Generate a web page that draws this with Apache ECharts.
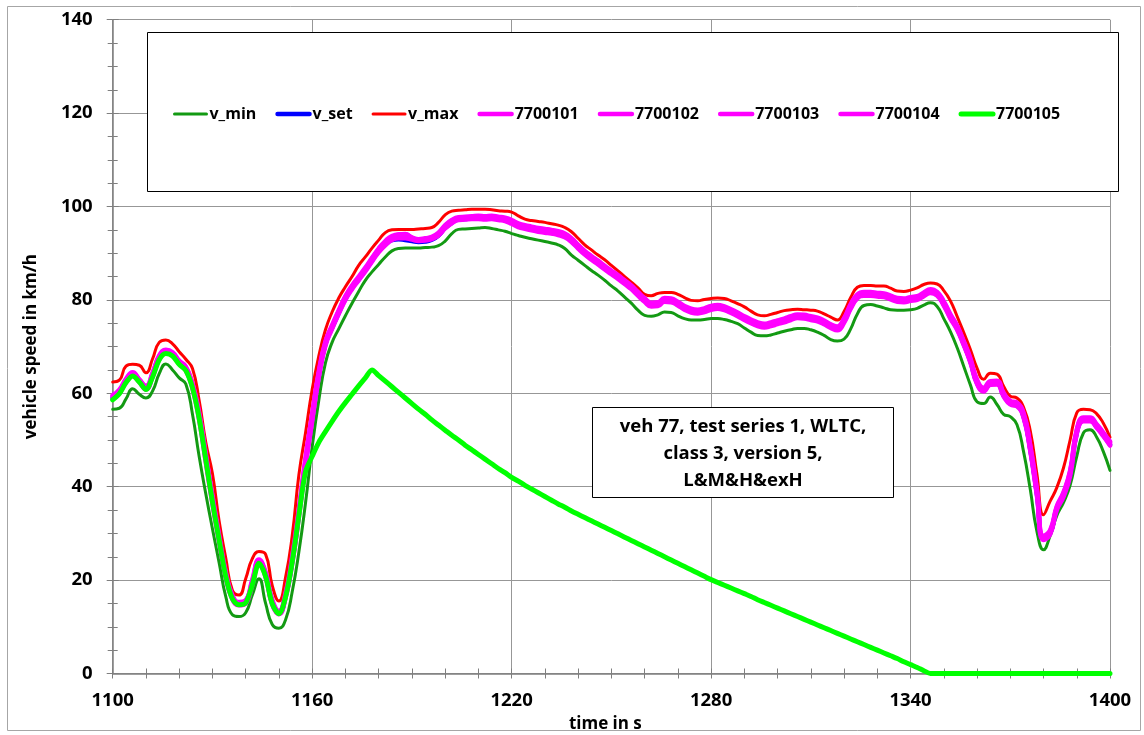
<!DOCTYPE html>
<html><head><meta charset="utf-8">
<script src="https://cdn.jsdelivr.net/npm/echarts@6/dist/echarts.min.js"></script>
<style>html,body{margin:0;padding:0;background:#fff;}#c{width:1144px;height:735px;}</style>
</head><body><div id="c"></div>
<script>
// time in s
const time = [
1100,1102,1104,1106,1108,1110,1112,1114,1116,1118,
1120,1122,1124,1126,1128,1130,1132,1134,1136,1138,
1140,1142,1144,1146,1148,1150,1152,1154,1156,1158,
1160,1162,1164,1166,1168,1170,1172,1174,1176,1178,
1180,1182,1184,1186,1188,1190,1192,1194,1196,1198,
1200,1202,1204,1206,1208,1210,1212,1214,1216,1218,
1220,1222,1224,1226,1228,1230,1232,1234,1236,1238,
1240,1242,1244,1246,1248,1250,1252,1254,1256,1258,
1260,1262,1264,1266,1268,1270,1272,1274,1276,1278,
1280,1282,1284,1286,1288,1290,1292,1294,1296,1298,
1300,1302,1304,1306,1308,1310,1312,1314,1316,1318,
1320,1322,1324,1326,1328,1330,1332,1334,1336,1338,
1340,1342,1344,1346,1348,1350,1352,1354,1356,1358,
1360,1362,1364,1366,1368,1370,1372,1374,1376,1378,
1380,1382,1384,1386,1388,1390,1392,1394,1396,1398,
1400];

const vMin = [
56.6,56.8,58.8,61.0,59.8,59.0,60.5,64.2,66.3,65.0,
63.3,62.0,55.5,46.5,38.5,31.0,23.8,16.5,12.6,12.2,
13.0,16.8,20.3,15.0,10.5,9.7,11.5,17.5,26.0,36.5,
48.5,58.5,66.5,70.9,73.8,76.6,79.3,81.8,84.2,86.0,
87.6,89.2,90.5,91.0,91.1,91.1,91.1,91.2,91.3,91.6,
92.6,94.2,95.1,95.2,95.3,95.4,95.5,95.3,95.0,94.7,
94.2,93.8,93.4,93.1,92.8,92.5,92.2,91.8,91.0,89.6,
88.5,87.4,86.3,85.3,84.2,83.0,81.9,80.6,79.3,77.8,
76.7,76.5,76.8,77.4,77.3,76.6,76.0,75.7,75.7,75.8,
76.0,76.0,75.8,75.4,74.9,74.0,73.1,72.4,72.3,72.5,
72.9,73.3,73.6,73.9,73.9,73.6,73.1,72.4,71.5,71.2,
71.6,73.8,77.0,78.8,79.0,78.7,78.3,77.9,77.8,77.8,
77.9,78.2,78.9,79.4,78.6,76.0,73.2,69.8,65.8,61.8,
58.2,57.8,59.2,57.6,55.5,55.0,53.3,47.5,39.5,30.5,
26.5,29.5,33.8,36.6,40.3,46.5,51.5,52.2,50.6,47.5,
43.5];

const vSet = [
59.0,60.2,62.6,64.0,62.6,61.0,63.8,67.5,68.8,68.3,
66.5,65.2,61.5,55.0,46.0,37.0,28.8,21.0,16.2,14.8,
15.2,19.2,23.9,21.0,15.0,12.9,16.5,24.0,34.0,45.0,
54.5,63.8,70.5,74.0,77.2,80.2,82.5,84.4,86.3,88.4,
90.4,91.8,92.8,93.0,92.8,92.6,92.4,92.5,92.9,93.8,
95.4,96.5,97.2,97.3,97.4,97.5,97.4,97.5,97.3,97.1,
96.5,95.8,95.4,95.1,94.8,94.6,94.4,94.1,93.6,92.6,
91.2,89.9,88.8,87.8,86.7,85.7,84.7,83.6,82.5,81.1,
79.8,78.8,78.9,79.8,79.7,79.0,78.1,77.5,77.3,77.6,
78.1,78.3,78.0,77.4,76.7,75.9,75.2,74.6,74.3,74.6,
75.0,75.4,75.9,76.3,76.2,75.9,75.6,75.0,74.2,73.7,
75.4,78.4,80.5,81.1,81.1,80.9,80.8,80.3,79.8,79.7,
80.0,80.2,81.0,81.7,81.1,79.0,76.2,73.8,70.5,66.8,
62.2,60.6,62.0,62.1,59.5,57.8,57.4,55.0,48.0,38.5,
28.8,30.0,35.2,38.0,42.5,51.5,54.2,54.2,52.8,51.0,
49.0];

const vMax = [
62.4,62.8,65.8,66.2,66.0,64.4,67.4,70.9,71.4,70.6,
68.9,67.3,65.3,58.5,49.5,42.8,32.7,24.8,17.8,16.8,
20.3,24.6,26.1,25.5,18.8,15.5,20.6,29.5,42.5,51.5,
60.8,68.0,73.6,77.4,80.4,82.8,85.0,87.4,89.2,91.1,
92.8,94.4,95.0,95.1,95.1,95.1,95.2,95.3,95.5,96.6,
98.2,99.0,99.2,99.3,99.4,99.4,99.4,99.3,99.1,99.0,
98.8,98.0,97.3,97.0,96.8,96.6,96.3,96.0,95.5,94.6,
93.2,91.8,90.7,89.6,88.6,87.4,86.2,85.0,83.8,82.6,
81.2,80.9,81.4,81.6,81.6,81.2,80.5,79.9,79.8,80.1,
80.3,80.4,80.3,79.8,79.2,78.5,77.6,76.8,76.6,76.9,
77.3,77.7,77.9,78.0,77.9,77.8,77.6,77.0,76.3,75.7,
77.5,80.5,82.7,83.1,83.1,83.0,83.0,82.5,81.9,81.8,
82.1,82.6,83.3,83.6,83.4,82.0,79.8,76.5,73.0,69.4,
65.4,63.0,64.3,64.1,61.5,59.4,59.0,57.0,52.0,42.8,
34.0,36.9,39.8,44.0,50.0,55.8,56.6,56.5,55.6,53.6,
50.6];

const run7700101 = [
59.4,60.5,62.9,64.3,62.9,61.4,64.2,67.9,69.1,68.6,
66.8,65.5,61.9,55.6,46.8,37.8,29.4,21.5,16.5,15.0,
15.5,19.8,24.2,21.4,15.5,13.2,17.0,24.8,34.9,45.8,
55.3,64.4,70.9,74.4,77.6,80.6,82.9,84.8,86.7,88.8,
90.8,92.3,93.3,93.5,93.4,93.1,92.9,93.0,93.3,94.2,
95.8,96.9,97.5,97.6,97.7,97.8,97.7,97.8,97.6,97.4,
96.9,96.2,95.8,95.5,95.2,95.0,94.8,94.5,94.0,93.0,
91.6,90.3,89.2,88.2,87.1,86.1,85.1,84.0,82.9,81.5,
80.2,79.2,79.3,80.2,80.1,79.4,78.5,77.9,77.7,78.0,
78.5,78.7,78.4,77.8,77.1,76.3,75.6,75.0,74.7,75.0,
75.4,75.8,76.3,76.7,76.6,76.3,76.0,75.4,74.6,74.1,
75.9,78.9,81.0,81.5,81.5,81.3,81.2,80.7,80.2,80.1,
80.4,80.6,81.4,82.1,81.5,79.5,76.7,74.3,71.0,67.3,
62.7,61.0,62.4,62.5,59.9,58.2,57.8,55.6,48.7,39.3,
29.3,30.5,35.6,38.6,43.2,52.0,54.6,54.6,53.2,51.4,
49.5];

const run7700102 = [
58.7,60.0,62.3,63.7,62.4,60.8,63.5,67.2,68.6,68.1,
66.3,64.9,61.0,54.3,45.2,36.3,28.2,20.6,15.9,14.6,
15.0,18.9,23.6,20.6,14.7,12.7,16.2,23.5,33.4,44.4,
54.0,63.4,70.2,73.8,77.0,80.0,82.3,84.2,86.1,88.2,
90.2,91.7,92.8,93.2,93.2,92.9,92.6,92.7,93.0,93.8,
95.3,96.4,97.1,97.2,97.3,97.3,97.2,97.3,97.1,96.9,
96.3,95.6,95.2,94.9,94.6,94.4,94.2,93.9,93.4,92.4,
91.0,89.7,88.6,87.6,86.5,85.5,84.5,83.4,82.3,80.9,
79.6,78.6,78.7,79.6,79.5,78.8,77.9,77.3,77.1,77.4,
77.9,78.1,77.8,77.2,76.5,75.7,75.0,74.4,74.1,74.4,
74.8,75.2,75.7,76.1,76.0,75.7,75.4,74.8,74.0,73.5,
75.1,78.1,80.3,80.9,80.9,80.7,80.6,80.1,79.6,79.5,
79.8,80.0,80.8,81.5,80.9,78.8,76.0,73.6,70.3,66.6,
62.0,60.4,61.8,61.9,59.3,57.6,57.2,54.8,47.7,38.2,
28.6,29.8,35.0,37.8,42.3,51.3,54.0,54.0,52.6,50.8,
48.8];

const run7700103 = [
59.6,60.8,63.1,64.5,63.0,61.6,64.4,68.1,69.3,68.8,
67.0,65.7,62.1,55.9,47.0,38.1,29.7,21.8,16.8,15.3,
15.7,20.1,24.4,21.7,15.8,13.4,17.2,25.1,35.2,46.1,
55.6,64.7,71.1,74.6,77.8,80.8,83.1,85.0,86.9,89.0,
91.0,92.6,93.7,94.0,94.0,93.4,93.0,93.2,93.5,94.4,
96.0,97.1,97.7,97.8,97.9,98.0,97.9,98.0,97.8,97.6,
97.1,96.4,96.0,95.7,95.4,95.2,95.0,94.7,94.2,93.2,
91.8,90.5,89.4,88.4,87.3,86.3,85.3,84.2,83.1,81.7,
80.4,79.4,79.5,80.4,80.3,79.6,78.7,78.1,77.9,78.2,
78.7,78.9,78.6,78.0,77.3,76.5,75.8,75.2,74.9,75.2,
75.6,76.0,76.5,76.9,76.8,76.5,76.2,75.6,74.8,74.3,
76.1,79.1,81.2,81.7,81.7,81.5,81.4,80.9,80.4,80.3,
80.6,80.8,81.6,82.3,81.7,79.7,76.9,74.5,71.2,67.5,
62.9,61.2,62.6,62.7,60.1,58.4,58.0,55.8,48.9,39.5,
29.5,30.7,35.8,38.8,43.4,52.2,54.8,54.8,53.4,51.6,
49.7];

const run7700104 = [
59.2,60.3,62.7,64.1,62.7,61.1,63.9,67.6,68.9,68.4,
66.6,65.3,61.6,55.2,46.3,37.3,29.0,21.2,16.3,14.9,
15.3,19.4,24.0,21.2,15.2,13.0,16.7,24.3,34.4,45.3,
54.8,64.1,70.7,74.2,77.4,80.4,82.7,84.6,86.5,88.6,
90.6,92.1,93.3,94.0,94.1,93.3,92.8,92.9,93.2,94.0,
95.6,96.7,97.4,97.5,97.6,97.7,97.6,97.7,97.5,97.3,
96.7,96.0,95.6,95.3,95.0,94.8,94.6,94.3,93.8,92.8,
91.4,90.1,89.0,88.0,86.9,85.9,84.9,83.8,82.7,81.3,
80.0,79.0,79.1,80.0,79.9,79.2,78.3,77.7,77.5,77.8,
78.3,78.5,78.2,77.6,76.9,76.1,75.4,74.8,74.5,74.8,
75.2,75.6,76.1,76.5,76.4,76.1,75.8,75.2,74.4,73.9,
75.6,78.6,80.7,81.3,81.3,81.1,81.0,80.5,80.0,79.9,
80.2,80.4,81.2,81.9,81.3,79.2,76.4,74.0,70.7,67.0,
62.4,60.8,62.2,62.3,59.7,58.0,57.6,55.2,48.2,38.7,
29.0,30.2,35.4,38.2,42.8,51.7,54.4,54.4,53.0,51.2,
49.2];

const run7700105 = [
58.6,59.9,62.3,63.7,62.4,60.8,63.5,67.2,68.5,68.0,
66.2,64.9,61.2,54.7,45.8,36.8,28.6,20.8,16.0,14.7,
15.1,19.0,23.6,20.8,14.9,12.8,16.4,23.9,33.8,43.2,
46.5,49.5,51.8,54.0,56.1,58.0,59.8,61.6,63.3,65.0,
63.8,62.6,61.4,60.2,59.0,57.8,56.6,55.5,54.3,53.2,
52.1,51.0,50.0,48.9,47.9,46.9,45.9,44.9,43.9,43.0,
42.0,41.2,40.3,39.5,38.7,37.9,37.1,36.3,35.6,34.8,
34.1,33.4,32.7,32.0,31.3,30.6,29.9,29.2,28.5,27.8,
27.1,26.4,25.7,25.0,24.3,23.6,22.9,22.2,21.5,20.8,
20.1,19.5,18.9,18.3,17.7,17.1,16.5,15.8,15.2,14.6,
14.0,13.4,12.8,12.2,11.6,11.0,10.4,9.8,9.2,8.6,
8.0,7.4,6.8,6.2,5.6,5.0,4.4,3.8,3.2,2.5,
1.9,1.3,0.6,0,0,0,0,0,0,0,
0,0,0,0,0,0,0,0,0,0,
0,0,0,0,0,0,0,0,0,0,
0];

const seriesNames = ['v_min','v_set','v_max','7700101','7700102','7700103','7700104','7700105'];
const xTicks = {min:1100, max:1400, step:60};
const yTicks = {min:0, max:140, step:20};
const infoText = ['veh 77, test series 1, WLTC,', 'class 3, version 5,', 'L&M&H&exH'];

const FONT = '"Open Sans"';
const gL = 112.7, gT = 19.7, gR = 34, gB = 61.5;
const plotW = 1144 - gL - gR, plotH = 735 - gT - gB;
const AX = '#7f7f7f', GRID = '#979797';

function pairs(arr){ const n = Math.min(time.length, arr.length); const out=[]; for(let i=0;i<n;i++) out.push([time[i], arr[i]]); return out; }
function mk(name, arr, color, width, smooth){
  return {name, type:'line', data:pairs(arr), symbol:'none', showSymbol:false, smooth:smooth,
    lineStyle:{color, width, cap:'round', join:'round'}, itemStyle:{color}, emphasis:{disabled:true}, animation:false};
}

const chart = echarts.init(document.getElementById('c'), null, {renderer:'canvas'});
const labelStyle = {fontFamily:FONT, fontWeight:'bold', color:'#000'};
chart.setOption({
  animation:false,
  backgroundColor:'#fff',
  grid:{left:gL, top:gT, right:gR, bottom:gB, containLabel:false, outerBoundsMode:'none'},
  xAxis:[
    {type:'value', min:xTicks.min, max:xTicks.max, interval:xTicks.step, position:'bottom',
     axisLine:{onZero:false, lineStyle:{color:AX, width:1.5}},
     axisTick:{show:true, length:5, lineStyle:{color:AX}},
     minorTick:{show:true, splitNumber:6, length:5, lineStyle:{color:AX}},
     splitLine:{show:true, lineStyle:{color:GRID, width:1}},
     axisLabel:Object.assign({fontSize:18.5, margin:18, formatter:(v)=>String(v)}, labelStyle),
     name:'time in s', nameLocation:'middle', nameGap:37,
     nameTextStyle:Object.assign({fontSize:17, padding:[0,12,0,0]}, labelStyle)},
    {type:'value', min:xTicks.min, max:xTicks.max, interval:xTicks.step, position:'top', offset:-plotH,
     axisLine:{show:false, onZero:false}, axisLabel:{show:false}, splitLine:{show:false},
     axisTick:{show:true, length:5, lineStyle:{color:AX}},
     minorTick:{show:true, splitNumber:6, length:5, lineStyle:{color:AX}}}
  ],
  yAxis:[
    {type:'value', min:yTicks.min, max:yTicks.max, interval:yTicks.step, position:'left',
     axisLine:{show:true, onZero:false, lineStyle:{color:AX, width:1.5}},
     axisTick:{show:true, length:6, lineStyle:{color:AX}},
     minorTick:{show:true, splitNumber:4, length:5, lineStyle:{color:AX}},
     splitLine:{show:true, lineStyle:{color:GRID, width:1}},
     axisLabel:Object.assign({fontSize:18.5, margin:20, formatter:(v)=>String(v)}, labelStyle),
     name:'vehicle speed in km/h', nameLocation:'middle', nameGap:73, nameRotate:90,
     nameTextStyle:Object.assign({fontSize:17}, labelStyle)},
    {type:'value', min:yTicks.min, max:yTicks.max, interval:yTicks.step, position:'right', offset:-plotW,
     axisLine:{show:false, onZero:false}, axisLabel:{show:false}, splitLine:{show:false},
     axisTick:{show:true, length:6, lineStyle:{color:AX}},
     minorTick:{show:true, splitNumber:4, length:5, lineStyle:{color:AX}}}
  ],
  legend:{show:true, left:168, top:101, itemWidth:32, itemHeight:2, itemGap:19, selectedMode:false,
    lineStyle:{width:'inherit', cap:'round'},
    data:seriesNames, textStyle:Object.assign({fontSize:16, padding:[0,0,0,-2]}, labelStyle), z:10},
  graphic:[
    {type:'rect', silent:true, z:-10, shape:{x:7.5, y:6.5, width:1133, height:724},
     style:{fill:null, stroke:'#a6a6a6', lineWidth:1}},
    {type:'rect', silent:true, z:5, shape:{x:147.5, y:32.5, width:971, height:159},
     style:{fill:'#fff', stroke:'#000', lineWidth:1}},
    {type:'rect', silent:true, z:5, shape:{x:592.5, y:407.5, width:301, height:90},
     style:{fill:'#fff', stroke:'#000', lineWidth:1}},
    {type:'text', silent:true, z:6, x:743, y:454,
     style:{text:infoText.join('\n'), fill:'#000', fontFamily:'Open Sans', fontWeight:'bold', fontSize:18.5,
            lineHeight:27, align:'center', verticalAlign:'middle'}}
  ],
  series:[
    mk(seriesNames[0], vMin, '#139a13', 3, 0.5),
    mk(seriesNames[1], vSet, '#0000ff', 4.5, 0.5),
    mk(seriesNames[2], vMax, '#ff0000', 3, 0.5),
    mk(seriesNames[3], run7700101, '#ff00ff', 4.5, 0.5),
    mk(seriesNames[4], run7700102, '#ff00ff', 4.5, 0.5),
    mk(seriesNames[5], run7700103, '#ff00ff', 4.5, 0.5),
    mk(seriesNames[6], run7700104, '#ff00ff', 4.5, 0.5),
    mk(seriesNames[7], run7700105, '#00ff00', 5, 0.3)
  ]
});
</script></body></html>
